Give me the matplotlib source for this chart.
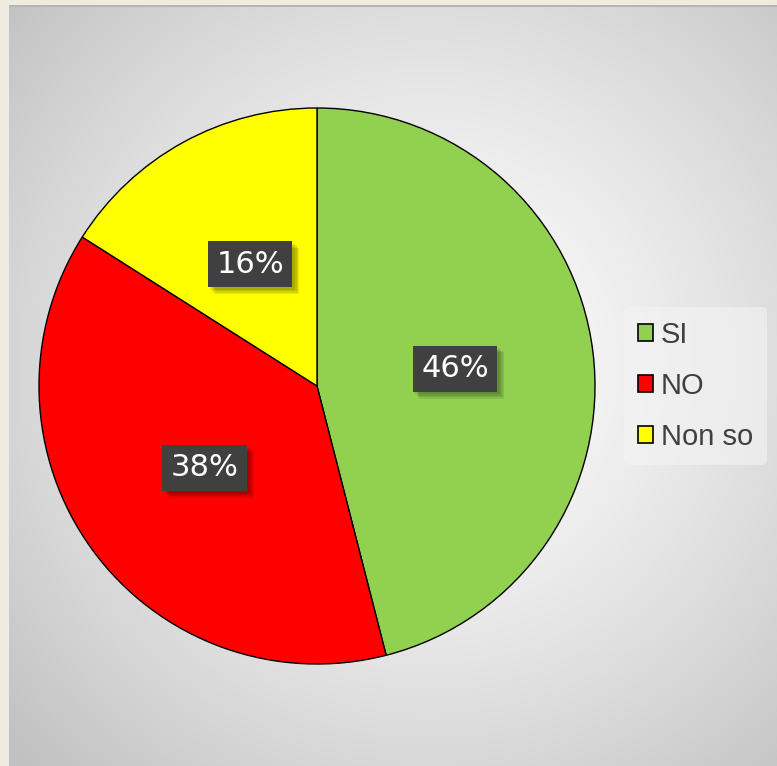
import numpy as np
import matplotlib
matplotlib.use("Agg")
import matplotlib.pyplot as plt
import matplotlib.patheffects as pe

# data
labels = ["SI", "NO", "Non so"]
values = [46, 38, 16]
colors = ["#92D050", "#FF0000", "#FFFF00"]

W, H = 777, 766
fig = plt.figure(figsize=(W / 100, H / 100), dpi=100)
fig.patch.set_facecolor("#EFEBE1")

# chart area with radial gradient background
bg = fig.add_axes([9 / W, 0, 1 - 9 / W, 1 - 5 / H])
bg.set_axis_off()
yy, xx = np.mgrid[0:761, 0:768]
cx, cy = 420, 360
d = np.sqrt((xx - cx) ** 2 + (yy - cy) ** 2) / 560.0
d = np.clip(d, 0, 1)
lev = 1.0 - 0.24 * d ** 1.3
img = np.dstack([lev, lev, lev])
bg.imshow(img, aspect="auto", extent=[0, 1, 0, 1], origin="upper")
bg.set_xlim(0, 1)
bg.set_ylim(0, 1)
bg.plot([0, 1], [0.999, 0.999], color="#b5b5b5", lw=1.5)

# pie
r = 278
cxp, cyp = 317, 386
ax = fig.add_axes([(cxp - r) / W, 1 - (cyp + r) / H, 2 * r / W, 2 * r / H])
ax.set_axis_off()
wedges, texts, autotexts = ax.pie(
    values, colors=colors, startangle=90, counterclock=False,
    autopct="%1.0f%%", pctdistance=0.5, radius=1,
    wedgeprops=dict(edgecolor="black", linewidth=1.0),
    textprops=dict(color="white", fontsize=22, family="DejaVu Sans"),
)
ax.set_xlim(-1, 1)
ax.set_ylim(-1, 1)
for w in wedges:
    w.set_path_effects([pe.SimplePatchShadow(offset=(0, 0), alpha=0.12, rho=0.9), pe.Normal()])

# soft shadow under the label boxes
soft = [pe.SimplePatchShadow(offset=(o, -o), shadow_rgbFace="black", alpha=0.09) for o in (5, 4, 3, 2)]
for t in autotexts:
    t.set_bbox(dict(boxstyle="square,pad=0.28", facecolor="#404040", edgecolor="none"))
    t.get_bbox_patch().set_path_effects(soft + [pe.Normal()])

# legend
leg = fig.legend(
    wedges, labels, loc="center left", bbox_to_anchor=(624 / W, 1 - 386 / H),
    frameon=True, handlelength=0.52, handleheight=0.52,
    handletextpad=0.28, labelspacing=0.8, borderpad=0.47, borderaxespad=0,
    prop=dict(family="Liberation Sans", size=21),
)
leg.get_frame().set_facecolor("#f4f4f4")
leg.get_frame().set_edgecolor("none")
leg.get_frame().set_alpha(0.6)
for t in leg.get_texts():
    t.set_color("#404040")
for h in leg.legend_handles:
    h.set_edgecolor("black")
    h.set_linewidth(1.2)

fig.savefig("out.png", dpi=100, facecolor=fig.get_facecolor())
